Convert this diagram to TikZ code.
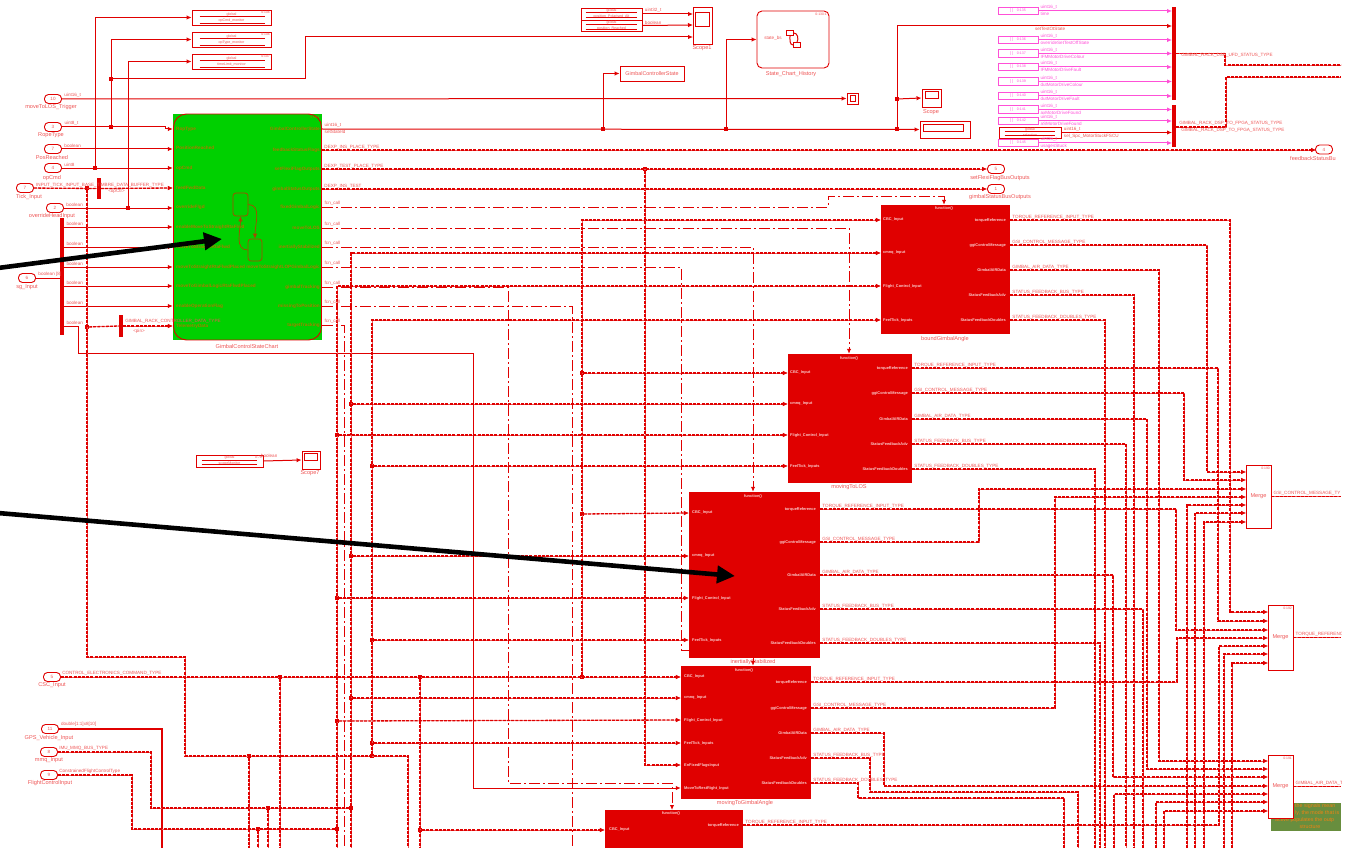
\documentclass[tikz,border=0pt]{standalone}
\usepackage{fontspec}
\setmainfont{Liberation Sans}
\usetikzlibrary{arrows.meta}
\definecolor{sred}{RGB}{224,0,0}
\definecolor{tx}{RGB}{238,85,85}
\definecolor{sgreen}{RGB}{0,208,0}
\definecolor{pnk}{RGB}{255,80,215}
\definecolor{stbr}{RGB}{170,70,0}
\definecolor{chtx}{RGB}{165,125,0}
\definecolor{lab}{RGB}{250,205,205}
\definecolor{ngreen}{RGB}{104,142,62}
\definecolor{ntx}{RGB}{240,130,20}
\begin{document}
\begin{tikzpicture}[
  x=1pt,y=-1pt,
  >={Latex[length=5pt,width=4.5pt]},
  every node/.style={inner sep=0pt,text=tx,font=\fontsize{4.6}{5.5}\selectfont},
  wire/.style={draw=sred,line width=1pt},
  thick wire/.style={draw=sred,line width=2pt},
  pw/.style={draw=pnk,line width=1pt},
  bus/.style={draw=sred!65,line width=.5pt,postaction={draw=sred,line width=1.3pt,dash pattern=on 3pt off 1.2pt}},
  fcn/.style={draw=sred,line width=1pt,dash pattern=on 11pt off 3pt on 2pt off 3pt},
  stt/.style={draw=stbr,line width=.7pt},
  dot/.style={fill=sred,minimum size=3.6pt},
  bar/.style={fill=sred,minimum width=3.6pt},
  port/.style={draw=sred,line width=.9pt,rounded corners=4pt,fill=white,minimum width=17pt,minimum height=9pt},
  capt/.style={font=\fontsize{5.6}{6}\selectfont},
  sig/.style={anchor=south west,xshift=2pt,yshift=.8pt},
  sigd/.style={anchor=north west,xshift=2pt,yshift=-.8pt},
  fb/.style={fill=sred},
  il/.style={anchor=west,text=lab,font=\fontsize{3.9}{4.5}\selectfont\bfseries},
  ir/.style={anchor=east,text=lab,font=\fontsize{3.9}{4.5}\selectfont\bfseries},
  cl/.style={anchor=west,text=chtx,font=\fontsize{4.7}{5}\selectfont\bfseries},
  cr/.style={anchor=east,text=chtx,font=\fontsize{4.7}{5}\selectfont\bfseries},
  box/.style={draw=sred,line width=.9pt,fill=white},
  pk/.style={draw=pnk,line width=.9pt,fill=white,minimum width=40pt,minimum height=7.5pt,text=pnk,font=\fontsize{3.6}{4}\selectfont},
  gl/.style={draw=sred,line width=.9pt,fill=white,align=center,font=\fontsize{3.6}{6}\selectfont},
  idn/.style={anchor=north east,font=\fontsize{3.4}{4}\selectfont},
  nt/.style={anchor=west,text=ntx,font=\fontsize{5.3}{6}\selectfont},
]
  \useasboundingbox (0,0) rectangle (1349,848);
  \clip (0,0) rectangle (1341,848);
  \coordinate (bot) at (0,848);
  \coordinate (rgt) at (1341,0);

  % inports
  \node[port] (inMove) at (53,99) {10};
  \node[capt] (inMovec) at (51,107) {moveToLOS\_Trigger};
  \node[port] (inRop) at (53,127) {3};
  \node[capt] (inRopc) at (51,135) {RopeType};
  \node[port] (inPos) at (53,149) {7};
  \node[capt] (inPosc) at (52,157) {PosReached};
  \node[port] (inOp) at (53,168) {4};
  \node[capt] (inOpc) at (52,178) {opCmd};
  \node[port] (inTick) at (25,188) {7};
  \node[capt] (inTickc) at (29,197) {Tick\_Input};
  \node[port] (inOvr) at (55,208) {2};
  \node[capt] (inOvrc) at (52,216) {overrideHeadInput};
  \node[port] (inSg) at (27,278) {6};
  \node[capt] (inSgc) at (27,287) {sg\_Input};
  \node[port] (inCsc) at (52,677) {5};
  \node[capt] (inCscc) at (52,685) {CSC\_Input};
  \node[port] (inGps) at (50,729) {11};
  \node[capt] (inGpsc) at (49,738) {GPS\_Vehicle\_Input};
  \node[port] (inMmq) at (49,752) {8};
  \node[capt] (inMmqc) at (49,760) {mmq\_Input};
  \node[port] (inFc) at (49,775) {9};
  \node[capt] (inFcc) at (50,783) {FlightControlInput};
  \node[bar,minimum height=117pt] (barIn) at (62,276.5) {};
  \node[bar,minimum height=21pt] (selTick) at (99,188.5) {};
  \node[bar,minimum height=22pt] (selFb) at (121,326) {};

  % chart
  \node[fill=sgreen,minimum width=149pt,minimum height=226pt] (chart) at (247.5,227) {};
  \node[draw=sred,line width=.9pt,rounded corners=13pt,minimum width=148pt,minimum height=226pt] (chartl) at (247.5,227) {};
  \node[capt] (chartc) at (247,346) {GimbalControlStateChart};
  \node[idn,text=chtx] (chartid) at (320,116) {0:60:1};
  \node[cl] (cl1) at (176,129) {RopType};
  \node[cl] (cl2) at (176,148) {PositionReached};
  \node[cl] (cl3) at (176,168) {opCmd};
  \node[cl] (cl4) at (176,188) {feedFwdData};
  \node[cl] (cl5) at (176,207) {overrideFlgd};
  \node[cl] (cl6) at (176,227) {enableMoveToStraightRtaFlwd};
  \node[cl] (cl7) at (176,247) {moveToStraightRtaFlwd};
  \node[cl] (cl8) at (176,267) {moveToStraightRtaFlwdPlaced};
  \node[cl] (cl9) at (176,286) {moveToGimbalLogicRtaFlwdPlaced};
  \node[cl] (cl10) at (176,306) {enableOperationFlag};
  \node[cl] (cl11) at (176,326) {TelemetryData};
  \node[cr] (cr1) at (320,129) {GimbalControllerState};
  \node[cr] (cr2) at (320,150) {feedbackStatusFlags};
  \node[cr] (cr3) at (320,169) {setFlexiFlagOutputs};
  \node[cr] (cr4) at (320,189) {gimbalStatusOutputs};
  \node[cr] (cr5) at (320,207) {fixedGimbalLogic};
  \node[cr] (cr6) at (320,228) {moveToLOS};
  \node[cr] (cr7) at (320,247) {inertiallyStabilized};
  \node[cr] (cr8) at (320,267) {moveToStraightLOPGimbalLogic};
  \node[cr] (cr9) at (320,287) {gimbalTracking};
  \node[cr] (cr10) at (320,306) {missingToPosition};
  \node[cr] (cr11) at (320,325) {targetTracking};
  \node[draw=stbr,line width=.7pt,rounded corners=3pt,minimum width=15pt,minimum height=23pt] (sta) at (240.5,204.5) {};
  \node[draw=stbr,line width=.7pt,rounded corners=3pt,minimum width=14pt,minimum height=22pt] (stb) at (255,250) {};
  \draw[stt,->] (sta.east) to[out=0,in=90] (stb.north);
  \draw[stt,->] (stb.west) to[out=180,in=270] (sta.south);

  % top blocks
  \node[gl,minimum width=79pt,minimum height=15pt] (gOp) at (231.5,17.5) {global\\opCmd\_monitor};
  \node[gl,minimum width=79pt,minimum height=15pt] (gTy) at (231.5,39.5) {global\\opType\_monitor};
  \node[gl,minimum width=79pt,minimum height=15pt] (gTm) at (231.5,61.5) {global\\timeLimit\_monitor};
  \node[gl,minimum width=61pt,minimum height=12pt] (gPa) at (611.5,14) {global\\position\_Polarised\_Alt};
  \node[gl,minimum width=61pt,minimum height=11pt] (gPb) at (611.5,25.5) {global\\position\_Reached};
  \node[gl,minimum width=62pt,minimum height=11pt] (gSel) at (1030,132.5) {global\\selection};
  \node[gl,minimum width=67pt,minimum height=12pt] (gSc) at (229.5,461) {global\\scopeMonitor};
  \draw[wire] ([shift={(8,7)}]gOp.north west) -- ([shift={(-6,7)}]gOp.north east);
  \draw[wire] ([shift={(8,14)}]gOp.north west) -- ([shift={(-6,14)}]gOp.north east);
  \draw[wire] ([shift={(8,7)}]gTy.north west) -- ([shift={(-6,7)}]gTy.north east);
  \draw[wire] ([shift={(8,14)}]gTy.north west) -- ([shift={(-6,14)}]gTy.north east);
  \draw[wire] ([shift={(8,7)}]gTm.north west) -- ([shift={(-6,7)}]gTm.north east);
  \draw[wire] ([shift={(8,14)}]gTm.north west) -- ([shift={(-6,14)}]gTm.north east);
  \draw[wire] ([shift={(5,5)}]gPa.north west) -- ([shift={(-5,5)}]gPa.north east);
  \draw[wire] ([shift={(5,10)}]gPa.north west) -- ([shift={(-5,10)}]gPa.north east);
  \draw[wire] ([shift={(5,4.5)}]gPb.north west) -- ([shift={(-5,4.5)}]gPb.north east);
  \draw[wire] ([shift={(5,9.5)}]gPb.north west) -- ([shift={(-5,9.5)}]gPb.north east);
  \draw[wire] ([shift={(6,5)}]gSel.north west) -- ([shift={(-6,5)}]gSel.north east);
  \draw[wire] ([shift={(6,9)}]gSel.north west) -- ([shift={(-6,9)}]gSel.north east);
  \draw[wire] ([shift={(6,5.5)}]gSc.north west) -- ([shift={(-6,5.5)}]gSc.north east);
  \draw[wire] ([shift={(6,10)}]gSc.north west) -- ([shift={(-6,10)}]gSc.north east);
  \node[idn] (gOpid) at (270,11) {0:106};
  \node[idn] (gTyid) at (270,33) {0:106};
  \node[idn] (gTmid) at (270,55) {0:107};
  \node[idn] (gScid) at (262,456) {0:78};
  \node[box,minimum width=19pt,minimum height=37pt] (sc1) at (702.5,25.5) {};
  \node[box,minimum width=14pt,minimum height=14pt] (sc1i) at (702,19) {};
  \node[capt] (sc1c) at (702,48.5) {Scope1};
  \coordinate (sc1a) at (693,14);
  \coordinate (sc1b) at (693,25);
  \coordinate (sc1d) at (693,37);
  \node[box,minimum width=64pt,minimum height=15pt,font=\fontsize{5.4}{6}\selectfont] (gcs) at (652,73.5) {GimbalControllerState};
  \node[draw=sred,line width=.9pt,rounded corners=5pt,minimum width=72pt,minimum height=57pt] (hist) at (793,39.5) {};
  \node[capt] (histc) at (791,74) {State\_Chart\_History};
  \node (histin) at (773,38) {state\_bs};
  \node[idn] (histid) at (827,13) {0:130:1};
  \node[draw=sred,line width=.7pt,minimum width=7pt,minimum height=5pt] (hista) at (790,33) {};
  \node[draw=sred,line width=.7pt,minimum width=7pt,minimum height=5pt] (histb) at (797,45) {};
  \draw[wire] (hista.east) to[out=0,in=60] (histb.north);
  \draw[wire] (hista.south) to[out=270,in=180] (histb.west);
  \node[box,minimum width=11pt,minimum height=11pt] (disp1) at (852.5,98.5) {};
  \node[box,minimum width=5pt,minimum height=6pt] (disp1i) at (853,98.5) {};
  \node[box,minimum width=19pt,minimum height=18pt] (sc) at (931.5,98) {};
  \node[box,minimum width=13pt,minimum height=7pt] (sci) at (931.5,95) {};
  \node[capt] (scc) at (931,112) {Scope};
  \node[box,minimum width=50pt,minimum height=17pt] (disp2) at (945,129.5) {};
  \node[box,minimum width=40pt,minimum height=7pt] (disp2i) at (943,127.5) {};
  \node[box,minimum width=18pt,minimum height=18pt] (sc3) at (311,460) {};
  \node[box,minimum width=13pt,minimum height=7pt] (sc3i) at (311,456.5) {};
  \node[capt] (sc3c) at (310,473.5) {Scope7};

  % constants
  \node[pk] (p1) at (1018,11) {[ ]\quad 0:135};
  \node[pk] (p2) at (1018,40) {[ ]\quad 0:136};
  \node[pk] (p3) at (1018,53.5) {[ ]\quad 0:137};
  \node[pk] (p4) at (1018,67) {[ ]\quad 0:138};
  \node[pk] (p5) at (1018,81.5) {[ ]\quad 0:139};
  \node[pk] (p6) at (1018,96) {[ ]\quad 0:140};
  \node[pk] (p7) at (1018,109.5) {[ ]\quad 0:141};
  \node[pk] (p8) at (1018,121) {[ ]\quad 0:142};
  \node[pk] (p9) at (1018,143) {[ ]\quad 0:145};
  \node[bar,minimum height=93pt] (barA) at (1174,53.5) {};
  \node[bar,minimum height=42pt] (barB) at (1174,126) {};

  % function blocks
  \node[fb,minimum width=129pt,minimum height=129pt] (b1) at (945.5,269.5) {};
  \node[capt] (b1c) at (945,339) {boundGimbalAngle};
  \node[fb,minimum width=124pt,minimum height=129pt] (b2) at (850,418.5) {};
  \node[capt] (b2c) at (849,487) {movingToLOS};
  \node[fb,minimum width=131pt,minimum height=166pt] (b3) at (754.5,575) {};
  \node[capt] (b3c) at (753,662) {inertiallyStabilized};
  \node[fb,minimum width=130pt,minimum height=133pt] (b4) at (746,732.5) {};
  \node[capt] (b4c) at (745,803) {movingToGimbalAngle};
  \node[fb,minimum width=138pt,minimum height=52pt] (b5) at (674,836) {};
  \node[il,anchor=center] (b1f) at (944,208) {function()};
  \node[il,anchor=center] (b2f) at (849,358) {function()};
  \node[il,anchor=center] (b3f) at (753,496) {function()};
  \node[il,anchor=center] (b4f) at (744,670) {function()};
  \node[il,anchor=center] (b5f) at (671,813) {function()};
  \node[il] (b1cbc) at (883,220) {CBC\_Input};
  \node[il] (b1cmnq) at (883,253) {cmnq\_Input};
  \node[il] (b1fc) at (883,286) {Flight\_Control\_Input};
  \node[il] (b1tick) at (883,320) {FeelTick\_Inputs};
  \node[ir] (b1tq) at (1006,220) {torqueReference};
  \node[ir] (b1gsi) at (1006,245) {ggiControlMessage};
  \node[ir] (b1air) at (1006,270) {GimbalAIRData};
  \node[ir] (b1adv) at (1006,295) {StatusFeedbackAdv};
  \node[ir] (b1dbl) at (1006,320) {StatusFeedbackDoubles};
  \node[il] (b2cbc) at (790,373) {CBC\_Input};
  \node[il] (b2cmnq) at (790,404) {cmnq\_Input};
  \node[il] (b2fc) at (790,435) {Flight\_Control\_Input};
  \node[il] (b2tick) at (790,466) {FeelTick\_Inputs};
  \node[ir] (b2tq) at (908,368) {torqueReference};
  \node[ir] (b2gsi) at (908,393) {ggiControlMessage};
  \node[ir] (b2air) at (908,419) {GimbalAIRData};
  \node[ir] (b2adv) at (908,444) {StatusFeedbackAdv};
  \node[ir] (b2dbl) at (908,469) {StatusFeedbackDoubles};
  \node[il] (b3cbc) at (692,513) {CBC\_Input};
  \node[il] (b3cmnq) at (692,556) {cmnq\_Input};
  \node[il] (b3fc) at (692,598) {Flight\_Control\_Input};
  \node[il] (b3tick) at (692,640) {FeelTick\_Inputs};
  \node[ir] (b3tq) at (816,509) {torqueReference};
  \node[ir] (b3gsi) at (816,542) {ggiControlMessage};
  \node[ir] (b3air) at (816,575) {GimbalAIRData};
  \node[ir] (b3adv) at (816,609) {StatusFeedbackAdv};
  \node[ir] (b3dbl) at (816,643) {StatusFeedbackDoubles};
  \node[il] (b4cbc) at (684,677) {CBC\_Input};
  \node[il] (b4cmnq) at (684,698) {cmnq\_Input};
  \node[il] (b4fc) at (684,720) {Flight\_Control\_Input};
  \node[il] (b4tick) at (684,743) {FeelTick\_Inputs};
  \node[il] (b4en) at (684,765) {EnFixedFlagsInput};
  \node[il] (b4mv) at (684,788) {MoveToRestRight\_Input};
  \node[ir] (b4tq) at (807,682) {torqueReference};
  \node[ir] (b4gsi) at (807,708) {ggiControlMessage};
  \node[ir] (b4air) at (807,733) {GimbalAIRData};
  \node[ir] (b4adv) at (807,758) {StatusFeedbackAdv};
  \node[ir] (b4dbl) at (807,783) {StatusFeedbackDoubles};
  \node[il] (b5cbc) at (609,830) {CBC\_Input};
  \node[ir] (b5tq) at (739,825) {torqueReference};

  % merges
  \node[fill=ngreen,minimum width=70pt,minimum height=28pt] (note) at (1306,817) {};
  \node[nt] (nt1) at (1295,806.5) {the signals mean};
  \node[nt] (nt2) at (1295,813.5) {ly, the mode that is};
  \node[nt] (nt3) at (1275,820.5) {active populates the outp};
  \node[nt,anchor=center] (nt4) at (1310,827) {structure};
  \node[box,minimum width=25pt,minimum height=63pt,font=\fontsize{5.6}{6}\selectfont] (m1) at (1258.5,496.5) {Merge};
  \node[box,minimum width=25pt,minimum height=65pt,font=\fontsize{5.6}{6}\selectfont] (m2) at (1280.5,637.5) {Merge};
  \node[box,minimum width=25pt,minimum height=63pt,font=\fontsize{5.6}{6}\selectfont] (m3) at (1280.5,786.5) {Merge};
  \node[idn] (m1id) at (1270,467) {0:190};
  \node[idn] (m2id) at (1292,607) {0:192};
  \node[idn] (m3id) at (1292,757) {0:191};
  \coordinate (m1a) at (1246,472);
  \coordinate (m1b) at (1246,480);
  \coordinate (m1c) at (1246,489);
  \coordinate (m1d) at (1246,497);
  \coordinate (m1e) at (1246,505);
  \coordinate (m1f) at (1246,513);
  \coordinate (m1g) at (1246,522);
  \coordinate (m2a) at (1268,612);
  \coordinate (m2b) at (1268,621);
  \coordinate (m2c) at (1268,630);
  \coordinate (m2d) at (1268,638);
  \coordinate (m2e) at (1268,646);
  \coordinate (m2f) at (1268,654);
  \coordinate (m2g) at (1268,663);
  \coordinate (m3a) at (1268,761);
  \coordinate (m3b) at (1268,769);
  \coordinate (m3c) at (1268,777);
  \coordinate (m3d) at (1268,786);
  \coordinate (m3e) at (1268,794);
  \coordinate (m3f) at (1268,802);
  \coordinate (m3g) at (1268,811);

  % junctions
  \node[dot] (j95) at (95,168) {};
  \node[dot] (j111) at (111,127) {};
  \node[dot] (j79) at (111,79) {};
  \node[dot] (j128) at (128,208) {};
  \node[dot] (jtk) at (87,188) {};
  \node[dot] (jtk2) at (87,327) {};
  \node[dot] (j603) at (603,129) {};
  \node[dot] (j726) at (726,129) {};
  \node[dot] (j897) at (897,129) {};
  \node[dot] (j99) at (897,99) {};
  \node[dot] (jfl) at (645,169) {};
  \node[dot] (jcs1) at (280,677) {};
  \node[dot] (jcs2) at (420,677) {};
  \node[dot] (jb0) at (582,677) {};
  \node[dot] (jb1) at (582,373) {};
  \node[dot] (jb2) at (582,514) {};
  \node[dot] (jc1) at (351,404) {};
  \node[dot] (jc2) at (351,556) {};
  \node[dot] (jc3) at (351,698) {};
  \node[dot] (jc4) at (351,808) {};
  \node[dot] (jc5) at (268,808) {};
  \node[dot] (jf1) at (337,435) {};
  \node[dot] (jf2) at (337,598) {};
  \node[dot] (jf3) at (337,721) {};
  \node[dot] (jf0) at (337,829) {};
  \node[dot] (jf5) at (258,829) {};
  \node[dot] (jt0) at (372,756) {};
  \node[dot] (jt1) at (372,466) {};
  \node[dot] (jt2) at (372,640) {};
  \node[dot] (jt3) at (372,743) {};
  \node[dot] (jt5) at (249,756) {};
  \node[dot] (jb5) at (420,830) {};

  % left inputs
  \draw[wire,->] (inMove) -- (disp1.west) node[sig,pos=0] (sMove) {uint16\_t};
  \draw[wire,->] (inRop) node[sig,xshift=9pt] (sRop) {uint8\_t} -| (165,0 |- cl1) -- (cl1 -| chart.west);
  \draw[wire,->] (inPos) -- (inPos -| chart.west) node[sig,pos=0] (sPos) {boolean};
  \draw[wire,->] (inOp) -- (inOp -| chart.west) node[sig,pos=0] (sOp) {uint8};
  \draw[wire,->] (inOvr) -- (inOvr -| chart.west) node[sig,pos=0] (sOvr) {boolean};
  \draw[wire,->] (j95) |- (gOp.west);
  \draw[wire,->] (j111) |- (gTy.west);
  \draw[wire,->] (j128) |- (gTm.west);
  \draw[wire,->] (j79) -| (305,0 |- sc1d) -- (sc1d);
  \draw[wire] (inSg) -- (inSg -| barIn.west) node[sig,pos=0] (sSg) {boolean [8]};
  \draw[wire,->] (cl6 -| barIn.east) node[sig] (sb1) {boolean} -- (cl6 -| chart.west);
  \draw[wire,->] (cl7 -| barIn.east) node[sig] (sb2) {boolean} -- (cl7 -| chart.west);
  \draw[wire,->] (cl8 -| barIn.east) node[sig] (sb3) {boolean} -- (cl8 -| chart.west);
  \draw[wire,->] (cl9 -| barIn.east) node[sig] (sb4) {boolean} -- (cl9 -| chart.west);
  \draw[wire,->] (cl10 -| barIn.east) node[sig] (sb5) {boolean} -- (cl10 -| chart.west);
  \draw[wire] (cl11 -| barIn.east) node[sig] (sb6) {boolean} -| (78,353) -| (473,0 |- b4mv);
  \draw[wire,->] (473,0 |- b4mv) -- (b4mv -| b4.west);
  \draw[bus] (inTick) -- (selTick.west) node[sig,pos=0] (sTick) {INPUT\_TICK\_INPUT\_BASE\_TIMBRE\_DATA\_BUFFER\_TYPE};
  \draw[bus,->] (selTick.east) node[sigd,xshift=5pt] (sTick2) {<opCtr>} -- (cl4 -| chart.west);
  \draw[bus] (jtk2) -- (selFb.west);
  \draw[bus,->] (selFb.east) node[sig,yshift=2pt] (sFb) {GIMBAL\_RACK\_CONTROLLER\_DATA\_TYPE} node[sigd,xshift=8pt,yshift=-2pt] (sFb2) {<pin>} -- (cl11 -| chart.west);
  \draw[bus] (jtk) |- (185,657) |- (408,756) -- (408,0 |- bot);
  \draw[bus] (jt5) -- (jt5 |- bot);

  % bottom left inports
  \draw[bus,->] (inCsc) node[sig,xshift=8pt,yshift=1pt] (sCsc) {CONTROL\_ELECTRONICS\_COMMAND\_TYPE} -- (b4cbc -| b4.west);
  \draw[bus] (jcs1) -- (jcs1 |- bot);
  \draw[bus] (jcs2) -- (jcs2 |- bot);
  \draw[thick wire] (inGps) node[sig,xshift=8pt,yshift=1pt] (sGps) {double[1:1]x8[10]} -| (162,0 |- bot);
  \draw[bus] (inMmq) node[sig,xshift=8pt,yshift=1pt] (sMmq) {IMU\_MMQ\_BUS\_TYPE} -| (151,0 |- jc4) -- (jc4);
  \draw[bus] (inFc) node[sig,xshift=8pt,yshift=1pt] (sFc) {ConstrainedFlightControlType} -| (132,0 |- jf0) -- (jf0);
  \draw[bus] (jc5) -- (jc5 |- bot);
  \draw[bus] (jf5) -- (jf5 |- bot);
  \draw[bus] (jc4) -- (jc4 |- bot);
  \draw[bus] (jf0) -- (jf0 |- bot);

  % block inputs
  \draw[bus,->] (jb0) |- (b1cbc -| b1.west);
  \draw[bus,->] (jb1) -- (b2cbc -| b2.west);
  \draw[bus,->] (jb2) -- (b3cbc -| b3.west);
  \draw[bus,->] (jc4) |- (b1cmnq -| b1.west);
  \draw[bus,->] (jc1) -- (b2cmnq -| b2.west);
  \draw[bus,->] (jc2) -- (b3cmnq -| b3.west);
  \draw[bus,->] (jc3) -- (b4cmnq -| b4.west);
  \draw[bus,->] (jf0) |- (b1fc -| b1.west);
  \draw[bus,->] (jf1) -- (b2fc -| b2.west);
  \draw[bus,->] (jf2) -- (b3fc -| b3.west);
  \draw[bus,->] (jf3) -- (b4fc -| b4.west);
  \draw[bus,->] (jt0) |- (b1tick -| b1.west);
  \draw[bus,->] (jt1) -- (b2tick -| b2.west);
  \draw[bus,->] (jt2) -- (b3tick -| b3.west);
  \draw[bus,->] (jt3) -- (b4tick -| b4.west);
  \draw[bus,->] (jfl) |- (b4en -| b4.west);
  \draw[bus,->] (jb5) -- (b5cbc -| b5.west);

  % chart outputs
  \draw[wire,->] (cr1 -| chart.east) node[sig] (so1) {uint16\_t} node[sigd] (so1b) {setStateId} -- (disp2.west);
  \draw[wire,->] (j603) |- (gcs.west);
  \draw[wire,->] (j726) |- (hist.west);
  \draw[wire,->] (j897) |- (1172,26) node[sigd,pos=.75,xshift=-2pt] (sTst) {setTestOtState};
  \draw[wire,->] (j99) -- (sc.west);
  \draw[bus,->] (cr2 -| chart.east) node[sig] (so2) {DEXP\_INS\_PLACE\_TYPE} -- (1316,150);
  \draw[bus,->] (cr3 -| chart.east) node[sig] (so3) {DEXP\_TEST\_PLACE\_TYPE} -- (987,169);
  \draw[bus,->] (cr4 -| chart.east) node[sig] (so4) {DEXP\_INS\_TEST} -- (987,189);
  \draw[fcn,->] (cr5 -| chart.east) node[sig] (sf5) {fcn\_call} -| (828,196) -| (b1f.north |- b1.north);
  \draw[fcn,->] (cr6 -| chart.east) node[sig] (sf6) {fcn\_call} -| (b2f.north |- b2.north);
  \draw[fcn,->] (cr7 -| chart.east) node[sig] (sf7) {fcn\_call} -| (b3f.north |- b3.north);
  \draw[fcn] (cr8 -| chart.east) node[sig] (sf8) {fcn\_call} -| (681,650) -- (b3.west |- 0,650);
  \draw[wire,->] (b3c.north |- b3.south) -- (b3c.north |- b4.north);
  \draw[fcn,->] (cr9 -| chart.east) node[sig] (sf9) {fcn\_call} -| (508,783) -| (672,810);
  \draw[fcn] (cr10 -| chart.east) node[sig] (sf10) {fcn\_call} -| (572,0 |- bot);
  \draw[fcn] (cr11 -| chart.east) node[sig] (sf11) {fcn\_call} -| (344,0 |- bot);

  % outports
  \node[port] (out4) at (1324,149.5) {4};
  \node[capt,anchor=west] (out4c) at (1290,158) {feedbackStatusBu};
  \node[port] (out5) at (996,169) {5};
  \node[capt] (out5c) at (1000,178) {setFlexiFlagBusOutputs};
  \node[port] (out1) at (996,189) {1};
  \node[capt] (out1c) at (1000,197) {gimbalStatusBusOutputs};

  % constants wires
  \draw[pw,->] (p1) node[sig,xshift=20pt,text=pnk] (np1a) {uint16\_t} node[sigd,xshift=20pt,text=pnk] (np1b) {time} -- (p1 -| barA.west);
  \draw[pw,->] (p2) node[sig,xshift=20pt,text=pnk] (np2a) {uint16\_t} node[sigd,xshift=20pt,text=pnk] (np2b) {overrideSetTestOffState} -- (p2 -| barA.west);
  \draw[pw,->] (p3) node[sig,xshift=20pt,text=pnk] (np3a) {uint16\_t} node[sigd,xshift=20pt,text=pnk] (np3b) {IFMMotorDriveColour} -- (p3 -| barA.west);
  \draw[pw,->] (p4) node[sig,xshift=20pt,text=pnk] (np4a) {uint16\_t} node[sigd,xshift=20pt,text=pnk] (np4b) {IFMMotorDriveFault} -- (p4 -| barA.west);
  \draw[pw,->] (p5) node[sig,xshift=20pt,text=pnk] (np5a) {uint16\_t} node[sigd,xshift=20pt,text=pnk] (np5b) {dutMotorDriveColour} -- (p5 -| barA.west);
  \draw[pw,->] (p6) node[sig,xshift=20pt,text=pnk] (np6a) {uint16\_t} node[sigd,xshift=20pt,text=pnk] (np6b) {dutMotorDriveFault} -- (p6 -| barA.west);
  \draw[pw,->] (p7) node[sig,xshift=20pt,text=pnk] (np7a) {uint16\_t} node[sigd,xshift=20pt,text=pnk] (np7b) {axMotorDriveFound} -- (p7 -| barB.west);
  \draw[pw,->] (p8) node[sig,xshift=20pt,text=pnk] (np8a) {uint16\_t} node[sigd,xshift=20pt,text=pnk] (np8b) {aSMotorDriveFound} -- (p8 -| barB.west);
  \draw[pw,->] (p9) node[sig,xshift=20pt,text=pnk] (np9a) {uint16\_t} node[sigd,xshift=20pt,text=pnk] (np9b) {usagesStuck} -- (p9 -| barB.west);
  \draw[wire,->] (gSel.east) node[sig] (sSel) {uint16\_t} node[sigd] (sSel2) {sel\_Spc\_MotorStuckFSCU} -- (gSel -| barB.west);
  \draw[bus] (p3 -| barA.east) node[sigd,xshift=3pt,yshift=1pt] (sr1) {GIMBAL\_RACK\_DSP\_UFD\_STATUS\_TYPE} -| (1225,65) -- (1341,65);
  \draw[bus] (1176,127) node[sig,xshift=1pt,yshift=1pt] (sr2) {GIMBAL\_RACK\_DSP\_TO\_FPGA\_STATUS\_TYPE} node[sigd,xshift=3pt] (sr3) {GIMBAL\_RACK\_DSP\_TO\_FPGA\_STATUS\_TYPE} -| (1226,77) -- (1341,77);
  \draw[wire,->] (gPa.east) node[sig] (sPa) {uint32\_t} -- (sc1a);
  \draw[wire,->] (gPb.east) node[sig] (sPb) {boolean} -- (sc1b);
  \draw[wire,->] (gSc.east) node[sig,xshift=-5pt,yshift=2pt] (sSc) {boolean} -- (sc3.west);

  % block outputs
  \draw[bus,->] (b1tq -| b1.east) node[sig] (s11) {TORQUE\_REFERENCE\_INPUT\_TYPE} -| (1230,0 |- m2a) -- (m2a);
  \draw[bus,->] (b1gsi -| b1.east) node[sig] (s12) {GSI\_CONTROL\_MESSAGE\_TYPE} -| (1207,0 |- m1a) -- (m1a);
  \draw[bus,->] (b1air -| b1.east) node[sig] (s13) {GIMBAL\_AIR\_DATA\_TYPE} -| (1159,0 |- m3a) -- (m3a);
  \draw[bus] (b1adv -| b1.east) node[sig] (s14) {STATUS\_FEEDBACK\_BUS\_TYPE} -| (1134,0 |- bot);
  \draw[bus] (b1dbl -| b1.east) node[sig] (s15) {STATUS\_FEEDBACK\_DOUBLES\_TYPE} -| (1105,0 |- bot);
  \draw[bus,->] (b2tq -| b2.east) node[sig] (s21) {TORQUE\_REFERENCE\_INPUT\_TYPE} -| (1218,0 |- m2b) -- (m2b);
  \draw[bus,->] (b2gsi -| b2.east) node[sig] (s22) {GSI\_CONTROL\_MESSAGE\_TYPE} -| (1184,0 |- m1b) -- (m1b);
  \draw[bus,->] (b2air -| b2.east) node[sig] (s23) {GIMBAL\_AIR\_DATA\_TYPE} -| (1147,0 |- m3b) -- (m3b);
  \draw[bus] (b2adv -| b2.east) node[sig] (s24) {STATUS\_FEEDBACK\_BUS\_TYPE} -| (1126,0 |- bot);
  \draw[bus] (b2dbl -| b2.east) node[sig] (s25) {STATUS\_FEEDBACK\_DOUBLES\_TYPE} -| (1095,0 |- bot);
  \draw[bus,->] (b3tq -| b3.east) node[sig] (s31) {TORQUE\_REFERENCE\_INPUT\_TYPE} -| (1176,0 |- m2c) -- (m2c);
  \draw[bus,->] (b3gsi -| b3.east) node[sig] (s32) {GSI\_CONTROL\_MESSAGE\_TYPE} -| (979,0 |- m1c) -- (m1c);
  \draw[bus,->] (b3air -| b3.east) node[sig] (s33) {GIMBAL\_AIR\_DATA\_TYPE} -| (1113,0 |- m3c) -- (m3c);
  \draw[bus] (b3adv -| b3.east) node[sig] (s34) {STATUS\_FEEDBACK\_BUS\_TYPE} -| (1143,0 |- bot);
  \draw[bus] (b3dbl -| b3.east) node[sig] (s35) {STATUS\_FEEDBACK\_DOUBLES\_TYPE} -| (1100,0 |- bot);
  \draw[bus,->] (b4tq -| b4.east) node[sig] (s41) {TORQUE\_REFERENCE\_INPUT\_TYPE} -| (1177,0 |- m2d) -- (m2d);
  \draw[bus,->] (b4gsi -| b4.east) node[sig] (s42) {GSI\_CONTROL\_MESSAGE\_TYPE} -| (1055,0 |- m1d) -- (m1d);
  \draw[bus,->] (b4air -| b4.east) node[sig] (s43) {GIMBAL\_AIR\_DATA\_TYPE} -| (884,0 |- m3d) -- (m3d);
  \draw[bus] (b4adv -| b4.east) node[sig] (s44) {STATUS\_FEEDBACK\_BUS\_TYPE} -| (870,792) -| (1078,0 |- bot);
  \draw[bus] (b4dbl -| b4.east) node[sig] (s45) {STATUS\_FEEDBACK\_DOUBLES\_TYPE} -| (858,798) -| (1064,0 |- bot);
  \draw[bus,->] (b5tq -| b5.east) node[sig] (s51) {TORQUE\_REFERENCE\_INPUT\_TYPE} -| (1219,0 |- m2e) -- (m2e);
  \draw[bus,->] (1187,0 |- bot) |- (m1e);
  \draw[bus,->] (1195,0 |- bot) |- (m1f);
  \draw[bus,->] (1204,0 |- bot) |- (m1g);
  \draw[bus,->] (1224,0 |- bot) |- (m2f);
  \draw[bus,->] (1232,0 |- bot) |- (m2g);
  \draw[bus,->] (1114,0 |- bot) |- (m3e);
  \draw[bus,->] (1156,0 |- bot) |- (m3f);
  \draw[bus,->] (1164,0 |- bot) |- (m3g);
  \draw[bus] (m1.east) node[sig] (sm1) {GSI\_CONTROL\_MESSAGE\_TY} -- (m1 -| rgt);
  \draw[bus] (m2.east) node[sig] (sm2) {TORQUE\_REFERENC} -- (m2 -| rgt);
  \draw[bus] (m3.east) node[sig] (sm3) {GIMBAL\_AIR\_DATA\_T} -- (m3 -| rgt);

  % black arrows
  \coordinate (blk1) at (-2,268);
  \coordinate (blk2) at (222,239);
  \coordinate (blk3) at (-2,513);
  \coordinate (blk4) at (735,576);
  \draw[line width=4.6pt,-{Triangle[length=18pt,width=17pt]}] (blk1) -- (blk2);
  \draw[line width=4.6pt,-{Triangle[length=18pt,width=17pt]}] (blk3) -- (blk4);
\end{tikzpicture}
\end{document}
